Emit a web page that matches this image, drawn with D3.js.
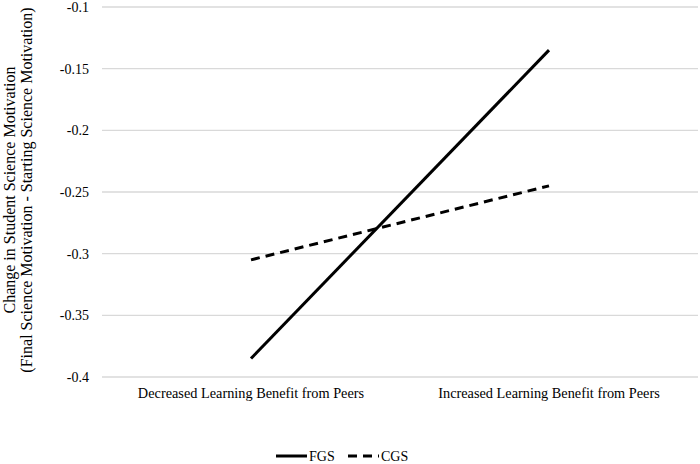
<!DOCTYPE html>
<html><head><meta charset="utf-8">
<script src="https://cdn.jsdelivr.net/npm/d3@7"></script>
<style>body{margin:0;background:#fff}</style>
</head><body>
<svg id="chart" width="700" height="464" font-family="'Liberation Serif', 'Times New Roman', 'DejaVu Serif', serif"></svg>
<script>
const categories = ["Decreased Learning Benefit from Peers", "Increased Learning Benefit from Peers"];
const seriesNames = ["FGS", "CGS"];
const fgsValues = [-0.385, -0.135];
const cgsValues = [-0.305, -0.245];
const yTicks = [-0.4, -0.35, -0.3, -0.25, -0.2, -0.15, -0.1];
const yTitleLines = ["Change in Student Science Motivation", "(Final Science Motivation - Starting Science Motivation)"];

(function () {
const svg = d3.select("#chart");
const FONT = "Liberation Serif";
const mLeft = 102, mRight = 698, mTop = 7, mBottom = 377;
const x = d3.scalePoint().domain(categories).range([mLeft, mRight]).padding(0.5);
const y = d3.scaleLinear().domain([-0.4, -0.1]).range([mBottom, mTop]);

svg.append("g").selectAll("line").data(yTicks).join("line")
  .attr("x1", mLeft).attr("x2", mRight)
  .attr("y1", d => y(d)).attr("y2", d => y(d))
  .attr("stroke", "#d9d9d9").attr("stroke-width", 1.3);

svg.append("g").selectAll("text").data(yTicks).join("text")
  .attr("x", 89).attr("y", d => y(d)).attr("dy", "0.35em")
  .attr("text-anchor", "end").attr("font-size", 14).attr("font-family", FONT)
  .text(d => String(d));

svg.append("g").selectAll("text").data(categories).join("text")
  .attr("x", d => x(d)).attr("y", 398)
  .attr("text-anchor", "middle").attr("font-size", 14.3).attr("font-family", FONT)
  .text(d => d);

const tg = svg.append("g").attr("transform", "translate(0,190) rotate(-90)");
tg.selectAll("text").data(yTitleLines).join("text")
  .attr("x", 0).attr("y", (d, i) => 15 + i * 17)
  .attr("text-anchor", "middle").attr("font-size", 16).attr("font-family", FONT)
  .text(d => d);

const line = d3.line().x((d, i) => x(categories[i])).y(d => y(d));
const series = [
  {name: seriesNames[0], values: fgsValues, dash: null},
  {name: seriesNames[1], values: cgsValues, dash: "9,6"}
];
svg.append("g").selectAll("path").data(series).join("path")
  .attr("d", d => line(d.values))
  .attr("fill", "none").attr("stroke", "#000").attr("stroke-width", 3)
  .attr("stroke-dasharray", d => d.dash);

const legendPos = [276, 348];
const lg = svg.append("g").selectAll("g").data(series).join("g")
  .attr("transform", (d, i) => `translate(${legendPos[i]},456)`);
lg.append("line").attr("x1", 0).attr("x2", 31).attr("y1", 0).attr("y2", 0)
  .attr("stroke", "#000").attr("stroke-width", 3)
  .attr("stroke-dasharray", d => d.dash);
lg.append("text").attr("x", 33).attr("y", 0).attr("dy", "0.35em")
  .attr("font-size", 14).attr("font-family", FONT).text(d => d.name);
})();
</script>
</body></html>
